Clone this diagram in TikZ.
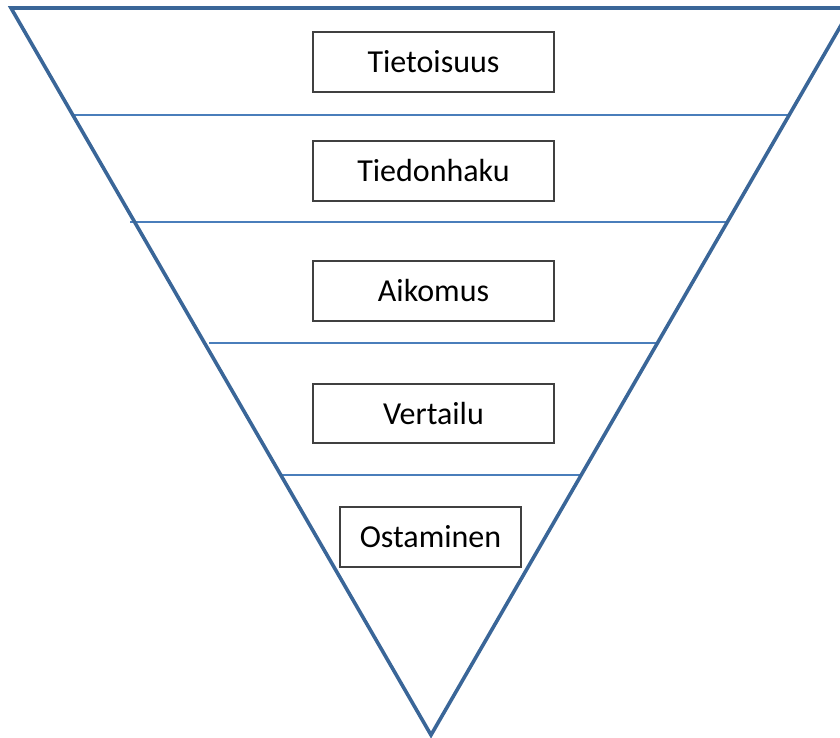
\documentclass[tikz,border=0pt]{standalone}
\usepackage{fontspec}
\setmainfont{Carlito}
\definecolor{triblue}{HTML}{3A6698}
\definecolor{lineblue}{HTML}{4A7EBB}
\definecolor{boxgray}{HTML}{404040}
\begin{document}
\begin{tikzpicture}[x=1pt,y=-1pt,
  stage/.style={draw=boxgray,line width=1.4pt,fill=white,minimum height=60pt,inner sep=0pt,font=\fontsize{32}{38}\selectfont,text=black},
  level/.style={draw=lineblue,line width=2.6pt},
  funnel/.style={draw=triblue,line width=3.6pt,line join=miter}]
\useasboundingbox (0,0) rectangle (840,738);
\clip (0,0) rectangle (840,738);
\coordinate (tl) at (11,8);
\coordinate (tr) at (851,8);
\coordinate (ap) at (431,735);
% level lines
\coordinate (a1) at (73,115);  \coordinate (b1) at (788,115);
\coordinate (a2) at (130,222); \coordinate (b2) at (726,222);
\coordinate (a3) at (209,343); \coordinate (b3) at (656,343);
\coordinate (a4) at (281,475); \coordinate (b4) at (580,475);
\draw[level] (a1) -- (b1);
\draw[level] (a2) -- (b2);
\draw[level] (a3) -- (b3);
\draw[level] (a4) -- (b4);
\draw[funnel] (tl) -- (tr) -- (ap) -- cycle;
\node[stage,minimum width=241pt] (n1) at (433.5,62) {Tietoisuus};
\node[stage,minimum width=241pt] (n2) at (433.5,171) {Tiedonhaku};
\node[stage,minimum width=241pt] (n3) at (433.5,291) {Aikomus};
\node[stage,minimum width=241pt,minimum height=59pt] (n4) at (433.5,413.5) {Vertailu};
\node[stage,minimum width=181pt] (n5) at (430.5,537) {Ostaminen};
\end{tikzpicture}
\end{document}
